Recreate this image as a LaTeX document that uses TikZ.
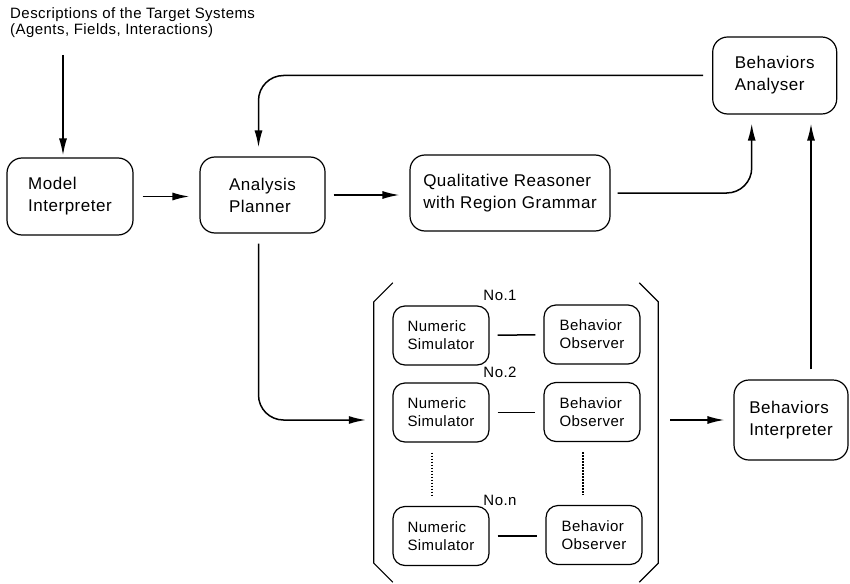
\documentclass[tikz,border=0pt]{standalone}
\usepackage{fontspec}
\setmainfont{Liberation Sans}[LetterSpace=3]
\usetikzlibrary{arrows.meta}

\begin{document}
\begin{tikzpicture}[x=1pt, y=-1pt]
                    \tikzstyle{block} = [draw, rounded corners=15pt, line width=1.2pt, align=left, inner sep=0pt, font=\fontsize{17}{22}\selectfont]
                    \tikzstyle{unit} = [draw, rounded corners=12pt, line width=1.2pt, align=left, inner sep=0pt, minimum width=96pt, minimum height=59pt, font=\fontsize{15}{18}\selectfont]
                    \tikzstyle{tag} = [inner sep=0pt, font=\fontsize{15}{16}\selectfont]
                    \tikzstyle{flow} = [line width=1.5pt, -{Latex[length=17pt,width=8pt]}]
                    \tikzstyle{link} = [line width=1.5pt, shorten <=8pt, shorten >=8pt]
                    \tikzstyle{etc} = [line width=1.5pt, dash pattern=on 1.5pt off 1.5pt, shorten <=10pt, shorten >=10pt]
                    \useasboundingbox (0,0) rectangle (850,583);
                    % input description
                    \node[tag, anchor=north west, align=left] (desc) at (10,7) {Descriptions of the Target Systems\\(Agents, Fields, Interactions)};
                    \coordinate (descout) at (63,55);
                    % main row
                    \node[block, minimum width=126pt, minimum height=77pt] (model) at (70,196.5) {Model\\Interpreter};
                    \node[block, minimum width=125pt, minimum height=76pt] (planner) at (262.5,195) {Analysis\\Planner};
                    \node[block, minimum width=200pt, minimum height=76pt] (qual) at (510,193) {Qualitative Reasoner\\with Region Grammar};
                    \node[block, minimum width=124pt, minimum height=77pt] (analyser) at (774.7,75.5) {Behaviors\\Analyser};
                    \node[block, minimum width=114pt, minimum height=80pt] (interp) at (791,420) {Behaviors\\Interpreter};
                    % simulation group
                    \node[minimum width=284pt, minimum height=299pt, inner sep=0pt] (group) at (516,432.5) {};
                    \draw[line width=1.2pt] ([xshift=19pt]group.north west) -- ([yshift=-19pt]group.north west)
                        -- ([yshift=19pt]group.south west) -- ([xshift=19pt]group.south west);
                    \draw[line width=1.2pt] ([xshift=-19pt]group.north east) -- ([yshift=-19pt]group.north east)
                        -- ([yshift=19pt]group.south east) -- ([xshift=-19pt]group.south east);
                    \node[unit] (ns1) at (441,335.5) {Numeric\\Simulator};
                    \node[unit] (bo1) at (592,334.5) {Behavior\\Observer};
                    \node[unit] (ns2) at (441,412.5) {Numeric\\Simulator};
                    \node[unit] (bo2) at (592,412) {Behavior\\Observer};
                    \node[unit] (nsn) at (441,536) {Numeric\\Simulator};
                    \node[unit] (bon) at (594,535) {Behavior\\Observer};
                    \node[tag] (no1) at (500,295) {No.1};
                    \node[tag] (no2) at (500,372) {No.2};
                    \node[tag] (non) at (500,500) {No.n};
                    \draw[link] (ns1) -- (bo1);
                    \draw[link] (ns2) -- (ns2 -| bo2.west);
                    \draw[link] (nsn) -- (nsn -| bon.west);
                    \draw[etc] ([xshift=-9pt]ns2.south) -- ([xshift=-9pt]nsn.north);
                    \draw[etc] ([xshift=-9pt]bo2.south) -- ([xshift=-9pt]bo2.south |- bon.north);
                    % connectors
                    \draw[flow, shorten >=2pt] (descout) -- (descout |- model.north);
                    \draw[flow, shorten <=9pt, shorten >=10pt] (model.east) -- (model.east -| planner.west);
                    \draw[flow, shorten <=8pt, shorten >=10pt] (planner.east) -- (planner.east -| qual.west);
                    \draw[flow, rounded corners=25pt, shorten <=7pt, shorten >=9pt] (qual.east) -| ([xshift=-23pt]analyser.south);
                    \draw[flow, rounded corners=25pt, shorten <=9pt, shorten >=9pt] (analyser.west) -| ([xshift=-4pt]planner.north);
                    \draw[flow, rounded corners=25pt, shorten <=10pt, shorten >=8pt] ([xshift=-4pt]planner.south) |- ([yshift=12.5pt]group.west);
                    \draw[flow, shorten <=12pt, shorten >=9pt] (group.east |- interp.west) -- (interp.west);
                    \draw[flow, shorten <=10pt, shorten >=9pt] ([xshift=20pt]interp.north) -- ([xshift=20pt]interp.north |- analyser.south);
\end{tikzpicture}
\end{document}
